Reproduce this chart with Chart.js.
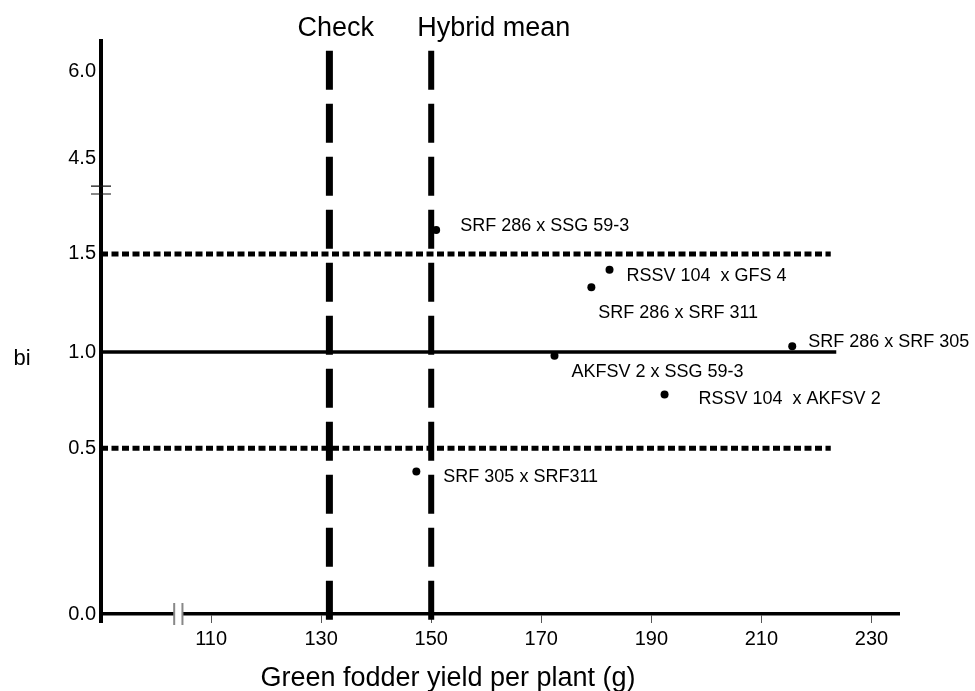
<!DOCTYPE html>
<html>
<head>
<meta charset="utf-8">
<script src="https://cdn.jsdelivr.net/npm/chart.js@4/dist/chart.umd.min.js"></script>
<style>
  html, body { margin: 0; padding: 0; background: #fff; }
  #wrap { width: 975px; height: 691px; }
</style>
</head>
<body>
<div id="wrap"><canvas id="chart"></canvas></div>
<script>
// Dados
const hybrids = ["SRF 286 x SSG 59-3", "RSSV 104  x GFS 4", "SRF 286 x SRF 311", "SRF 286 x SRF 305",
                 "AKFSV 2 x SSG 59-3", "RSSV 104  x AKFSV 2", "SRF 305 x SRF311"];
const yieldG = [150.9, 182.4, 179.1, 215.6, 172.4, 192.4, 147.3];
const bi = [1.62, 1.42, 1.33, 1.03, 0.98, 0.78, 0.43];

const checkMean = 131.5;
const hybridMean = 150;
const dottedLevels = [1.5, 0.5];
const unitLevel = 1.0;
const levelSpan = [90, 222.6];

const xTicks = [110, 130, 150, 170, 190, 210, 230];
const yTicks = [0.0, 0.5, 1.0, 1.5, 4.5, 6.0];
const xBreak = [103.3, 104.8];
const yBreak = [1.8, 4.0];

// eixo y quebrado: valor -> fracao da altura
const yKnots = [[0, 0], [0.5, 0.2892], [1.0, 0.4572], [1.5, 0.6283], [1.8, 0.7330],
                [4.0, 0.7469], [4.5, 0.7958], [6.0, 0.9464], [6.5, 1]];

// posicao dos rotulos em relacao ao ponto (px)
const labelOffset = [[24, 1], [17, 11], [7, 31], [16, 1], [17, 21], [34, 10], [27, 11]];

const FONT = '"Liberation Sans", Arial, sans-serif';

class BrokenScale extends Chart.LinearScale {
  buildTicks() {
    return yTicks.map(v => ({ value: v }));
  }
  frac(v) {
    let i = 1;
    while (i < yKnots.length - 1 && v > yKnots[i][0]) i++;
    const [v0, f0] = yKnots[i - 1], [v1, f1] = yKnots[i];
    return f0 + (v - v0) / (v1 - v0) * (f1 - f0);
  }
  getPixelForValue(v) {
    return this.bottom - this.frac(v) * (this.bottom - this.top);
  }
  getValueForPixel(p) {
    const f = (this.bottom - p) / (this.bottom - this.top);
    let i = 1;
    while (i < yKnots.length - 1 && f > yKnots[i][1]) i++;
    const [v0, f0] = yKnots[i - 1], [v1, f1] = yKnots[i];
    return v0 + (f - f0) / (f1 - f0) * (v1 - v0);
  }
}
BrokenScale.id = 'broken';
BrokenScale.defaults = Chart.LinearScale.defaults;
Chart.register(BrokenScale);

const annotate = {
  id: 'annotate',
  afterDraw(chart) {
    const { ctx, chartArea: a, scales: { x, y } } = chart;
    ctx.save();

    // prolongamento do eixo y abaixo do zero
    ctx.fillStyle = '#000';
    ctx.fillRect(a.left - 2, a.bottom, 4, 9);

    // quebra do eixo x
    const bx0 = x.getPixelForValue(xBreak[0]), bx1 = x.getPixelForValue(xBreak[1]);
    ctx.fillStyle = '#fff';
    ctx.fillRect(bx0, a.bottom - 3, bx1 - bx0, 6);
    ctx.strokeStyle = '#888';
    ctx.lineWidth = 2;
    ctx.beginPath();
    [bx0, bx1].forEach(px => { ctx.moveTo(px, a.bottom - 11); ctx.lineTo(px, a.bottom + 11); });
    ctx.stroke();

    // quebra do eixo y
    ctx.strokeStyle = '#111';
    ctx.lineWidth = 1.2;
    ctx.beginPath();
    yBreak.forEach(v => {
      const py = y.getPixelForValue(v);
      ctx.moveTo(a.left - 10, py); ctx.lineTo(a.left + 10, py);
    });
    ctx.stroke();

    ctx.fillStyle = '#000';
    ctx.textBaseline = 'alphabetic';
    ctx.textAlign = 'left';

    // rotulos dos hibridos
    ctx.font = '18px ' + FONT;
    hybrids.forEach((n, i) => {
      const [dx, dy] = labelOffset[i];
      ctx.fillText(n, x.getPixelForValue(yieldG[i]) + dx, y.getPixelForValue(bi[i]) + dy);
    });

    // titulos das linhas verticais
    ctx.font = '27px ' + FONT;
    ctx.fillText('Check', x.getPixelForValue(checkMean) - 32, 36);
    ctx.fillText('Hybrid mean', x.getPixelForValue(hybridMean) - 14, 36);

    // titulos dos eixos
    ctx.textAlign = 'center';
    ctx.fillText('Green fodder yield per plant (g)', 448, 686);
    ctx.font = '22px ' + FONT;
    ctx.fillText('bi', 22, y.getPixelForValue(unitLevel) + 13);
    ctx.restore();
  }
};

const lineStyle = { showLine: true, pointRadius: 0, borderColor: '#000', borderCapStyle: 'butt', fill: false };

const datasets = [
  {
    data: yieldG.map((v, i) => ({ x: v, y: bi[i] })),
    pointRadius: 4,
    pointBackgroundColor: '#000',
    pointBorderWidth: 0,
    showLine: false,
    order: 0
  },
  ...dottedLevels.map(l => ({
    ...lineStyle,
    data: levelSpan.map(v => ({ x: v, y: l })),
    borderWidth: 5,
    borderDash: [7, 3.5],
    order: 2
  })),
  {
    ...lineStyle,
    data: levelSpan.map(v => ({ x: v + (v > 100 ? 1 : 0), y: unitLevel })),
    borderWidth: 3.5,
    order: 2
  },
  ...[checkMean, hybridMean].map((m, i) => ({
    ...lineStyle,
    data: [{ x: m, y: 6.34 }, { x: m, y: -0.03 }],
    borderWidth: i === 0 ? 7 : 6,
    borderDash: [39, 14],
    clip: false,
    order: 1
  }))
];

new Chart(document.getElementById('chart'), {
  type: 'scatter',
  data: { datasets },
  plugins: [annotate],
  options: {
    responsive: true,
    maintainAspectRatio: false,
    animation: false,
    events: [],
    layout: { padding: { top: 41, right: 76, left: 0, bottom: 0 } },
    plugins: { legend: { display: false }, tooltip: { enabled: false } },
    scales: {
      x: {
        type: 'linear',
        min: 90,
        max: 235,
        afterBuildTicks: s => { s.ticks = xTicks.map(v => ({ value: v })); },
        afterFit: s => { s.height = 77; },
        grid: { drawOnChartArea: false, drawTicks: true, tickLength: 9, color: '#555', lineWidth: 1 },
        border: { color: '#000', width: 3.5 },
        ticks: { color: '#000', font: { family: FONT, size: 20 }, padding: 4, autoSkip: false, maxRotation: 0 }
      },
      y: {
        type: 'broken',
        min: 0,
        max: 6.5,
        afterFit: s => { s.width = 101; },
        grid: { display: false, drawTicks: false },
        border: { color: '#000', width: 4 },
        ticks: {
          color: '#000', font: { family: FONT, size: 20 }, padding: 5, autoSkip: false,
          callback: v => v.toFixed(1)
        }
      }
    }
  }
});
</script>
</body>
</html>
